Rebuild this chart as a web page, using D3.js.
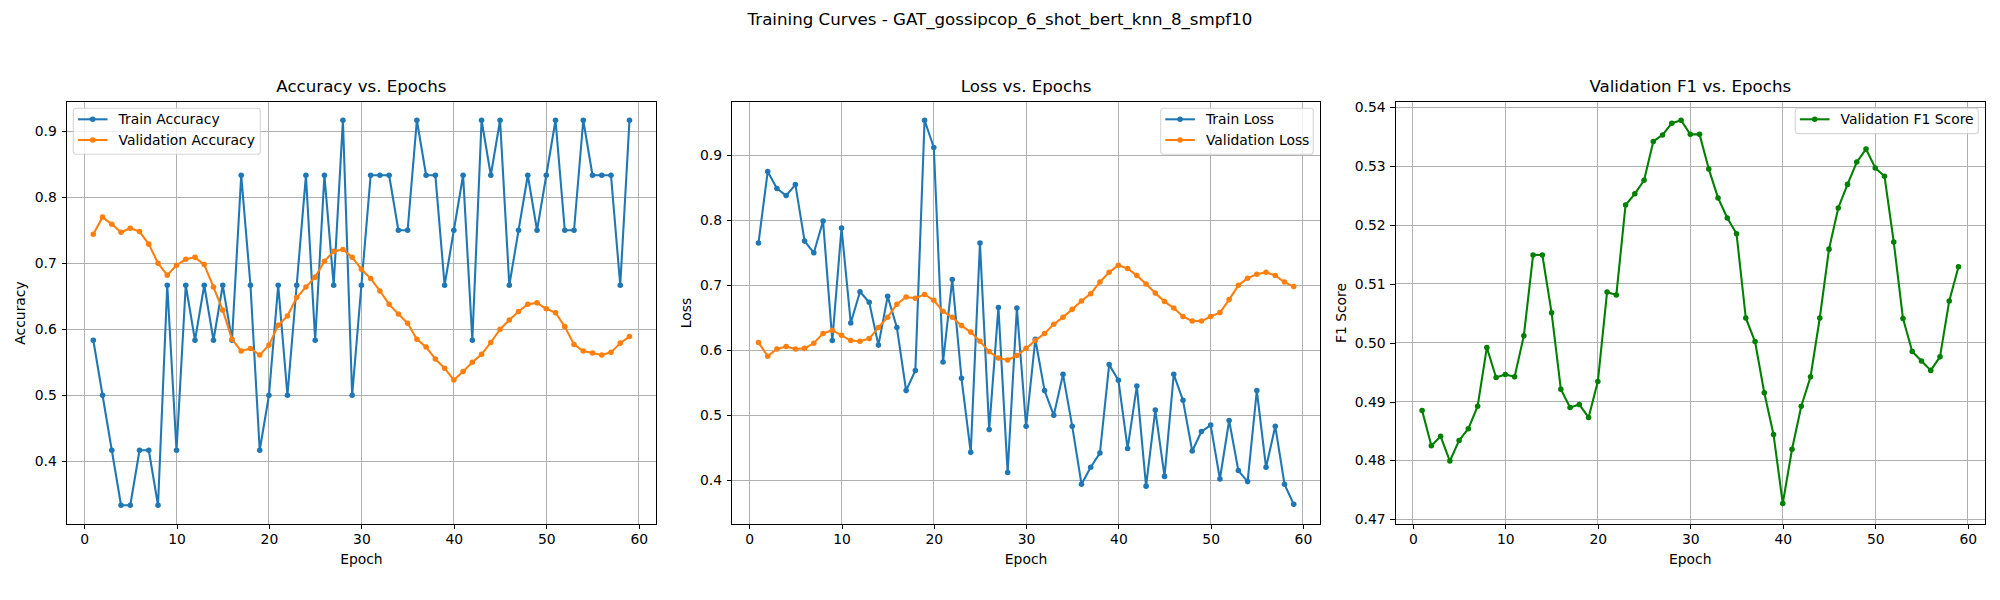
<!DOCTYPE html>
<html>
<head>
<meta charset="utf-8">
<script src="https://cdn.jsdelivr.net/npm/d3@7"></script>
<style>
  html, body { margin: 0; padding: 0; background: #fff; }
  svg { display: block; font-family: "DejaVu Sans", sans-serif; fill: #000; }
  .grid line { stroke: #b0b0b0; stroke-width: 1px; shape-rendering: crispEdges; }
  .frame { fill: none; stroke: #000; stroke-width: 1px; shape-rendering: crispEdges; }
  .axis path { display: none; }
  .axis line { stroke: #000; stroke-width: 1px; shape-rendering: crispEdges; }
  .axis text { font-size: 13.9px; font-family: "DejaVu Sans", sans-serif; fill: #000; }
</style>
</head>
<body>
<svg id="chart" width="2000" height="600"></svg>
<script>
const epochs = [1,2,3,4,5,6,7,8,9,10,11,12,13,14,15,16,17,18,19,20,21,22,23,24,25,26,27,28,29,30,
  31,32,33,34,35,36,37,38,39,40,41,42,43,44,45,46,47,48,49,50,51,52,53,54,55,56,57,58,59];

const trainAccuracy = [.5833,.5,.4167,.3333,.3333,.4167,.4167,.3333,.6667,.4167,.6667,.5833,.6667,.5833,.6667,.5833,.8333,.6667,.4167,.5,
  .6667,.5,.6667,.8333,.5833,.8333,.6667,.9167,.5,.6667,.8333,.8333,.8333,.75,.75,.9167,.8333,.8333,.6667,.75,
  .8333,.5833,.9167,.8333,.9167,.6667,.75,.8333,.75,.8333,.9167,.75,.75,.9167,.8333,.8333,.8333,.6667,.9167];
const valAccuracy = [.744,.770,.759,.747,.753,.748,.729,.700,.682,.697,.706,.709,.698,.664,.629,.585,.567,.571,.561,.576,
  .606,.620,.648,.664,.679,.703,.718,.721,.709,.691,.677,.658,.638,.623,.609,.585,.573,.555,.541,.523,
  .536,.550,.562,.580,.600,.614,.627,.638,.640,.631,.625,.604,.577,.567,.564,.561,.565,.579,.589];

const trainLoss = [.765,.875,.849,.838,.855,.768,.750,.799,.615,.788,.642,.690,.674,.608,.683,.635,.538,.569,.954,.912,
  .582,.709,.557,.443,.765,.478,.666,.412,.665,.483,.617,.538,.500,.563,.483,.394,.420,.442,.578,.554,
  .449,.545,.391,.508,.406,.563,.523,.445,.475,.485,.402,.492,.415,.398,.538,.420,.483,.394,.363];
const valLoss = [.612,.591,.602,.606,.602,.603,.611,.626,.631,.623,.615,.614,.618,.635,.651,.671,.682,.680,.686,.677,
  .660,.651,.638,.628,.614,.598,.588,.585,.592,.603,.615,.626,.640,.651,.663,.676,.687,.705,.720,.731,
  .726,.715,.702,.688,.675,.665,.652,.645,.645,.652,.658,.678,.700,.711,.717,.720,.715,.705,.698];

const valF1 = [.4885,.4825,.4841,.4799,.4834,.4854,.4892,.4992,.4941,.4946,.4942,.5012,.5149,.5149,.5051,.4921,.4890,.4895,.4873,.4934,
  .5086,.5081,.5234,.5253,.5276,.5342,.5353,.5373,.5378,.5354,.5354,.5295,.5246,.5212,.5185,.5042,.5002,.4915,.4844,.4727,
  .4819,.4892,.4942,.5042,.5159,.5229,.5269,.5307,.5329,.5297,.5283,.5171,.5041,.4985,.4969,.4953,.4976,.5071,.5129];

const xTicks = [0,10,20,30,40,50,60];
const accTicks = [.4,.5,.6,.7,.8,.9];
const lossTicks = [.4,.5,.6,.7,.8,.9];
const f1Ticks = [.47,.48,.49,.50,.51,.52,.53,.54];

const blue = '#1f77b4', orange = '#ff7f0e', green = 'green';

const svg = d3.select('#chart');

svg.append('text').attr('x', 1000).attr('y', 25).attr('text-anchor', 'middle')
  .style('font-size', '16.67px').text('Training Curves - GAT_gossipcop_6_shot_bert_knn_8_smpf10');

// one panel: scales are fitted to the reference's frame and grid positions
function panel(o){
  const x = d3.scaleLinear().domain([-1.9, 61.9]).range([o.left, o.right]);
  const y = d3.scaleLinear().domain(o.yDomain).range([524.3, 101.7]);
  const g = svg.append('g');

  const grid = g.append('g').attr('class', 'grid');
  grid.selectAll('.v').data(xTicks).enter().append('line').attr('class', 'v')
    .attr('x1', d=>x(d)).attr('x2', d=>x(d)).attr('y1', 101.7).attr('y2', 524.3);
  grid.selectAll('.h').data(o.yTicks).enter().append('line').attr('class', 'h')
    .attr('x1', o.left).attr('x2', o.right).attr('y1', d=>y(d)).attr('y2', d=>y(d));

  const line = d3.line().x((d,i)=>x(epochs[i])).y(d=>y(d));
  o.series.forEach(s=>{
    g.append('path').datum(s.values).attr('d', line).attr('fill', 'none')
      .attr('stroke', s.color).attr('stroke-width', 2.08).attr('stroke-linejoin', 'round');
    g.append('g').selectAll('circle').data(s.values).enter().append('circle')
      .attr('cx', (d,i)=>x(epochs[i])).attr('cy', d=>y(d)).attr('r', 2.78).attr('fill', s.color);
  });

  g.append('g').attr('class', 'axis').attr('transform', 'translate(0,524.3)')
    .call(d3.axisBottom(x).tickValues(xTicks).tickFormat(d3.format('d')).tickSizeOuter(0).tickSize(4.86).tickPadding(4.86));
  g.append('g').attr('class', 'axis').attr('transform', `translate(${o.left},0)`)
    .call(d3.axisLeft(y).tickValues(o.yTicks).tickFormat(d3.format(o.yFormat)).tickSizeOuter(0).tickSize(4.86).tickPadding(4.86));

  g.append('rect').attr('class', 'frame').attr('x', o.left).attr('y', 101.7)
    .attr('width', o.right - o.left).attr('height', 524.3 - 101.7);

  const mid = (o.left + o.right) / 2;
  g.append('text').attr('x', mid).attr('y', 91.5).attr('text-anchor', 'middle').style('font-size', '16.67px').text(o.title);
  g.append('text').attr('x', mid).attr('y', 564).attr('text-anchor', 'middle').style('font-size', '13.9px').text('Epoch');
  g.append('text').attr('transform', `translate(${o.yLabelX},${(101.7 + 524.3) / 2}) rotate(-90)`)
    .attr('text-anchor', 'middle').style('font-size', '13.9px').text(o.yLabel);

  // legend box
  const lg = g.append('g').attr('transform', `translate(${o.legend.x},108.3)`);
  const rowH = 20.7;
  lg.append('rect').attr('width', o.legend.w).attr('height', 4.2 + o.series.length * rowH + 0.4).attr('rx', 2.8)
    .attr('fill', '#fff').attr('fill-opacity', 0.8).attr('stroke', '#ccc').attr('stroke-opacity', 0.8).attr('stroke-width', 1.11);
  o.series.forEach((s,i)=>{
    const yy = 11 + i * rowH;
    lg.append('line').attr('x1', 4.6).attr('x2', 34.2).attr('y1', yy).attr('y2', yy)
      .attr('stroke', s.color).attr('stroke-width', 2.08);
    lg.append('circle').attr('cx', 19.4).attr('cy', yy).attr('r', 2.78).attr('fill', s.color);
    lg.append('text').attr('x', 45.2).attr('y', yy + 5).style('font-size', '13.9px').text(s.name);
  });
}

panel({left: 66.5, right: 656.3, yDomain: [.3045, .9448], yTicks: accTicks, yFormat: '.1f',
  title: 'Accuracy vs. Epochs', yLabel: 'Accuracy', yLabelX: 25,
  legend: {x: 73.3, w: 187},
  series: [{name: 'Train Accuracy', values: trainAccuracy, color: blue},
           {name: 'Validation Accuracy', values: valAccuracy, color: orange}]});

panel({left: 731.7, right: 1320.5, yDomain: [.3323, .9825], yTicks: lossTicks, yFormat: '.1f',
  title: 'Loss vs. Epochs', yLabel: 'Loss', yLabelX: 690.5,
  legend: {x: 1160.7, w: 152.6},
  series: [{name: 'Train Loss', values: trainLoss, color: blue},
           {name: 'Validation Loss', values: valLoss, color: orange}]});

panel({left: 1395.3, right: 1985.3, yDomain: [.46915, .54095], yTicks: f1Ticks, yFormat: '.2f',
  title: 'Validation F1 vs. Epochs', yLabel: 'F1 Score', yLabelX: 1345.5,
  legend: {x: 1795.3, w: 183},
  series: [{name: 'Validation F1 Score', values: valF1, color: green}]});
</script>
</body>
</html>
